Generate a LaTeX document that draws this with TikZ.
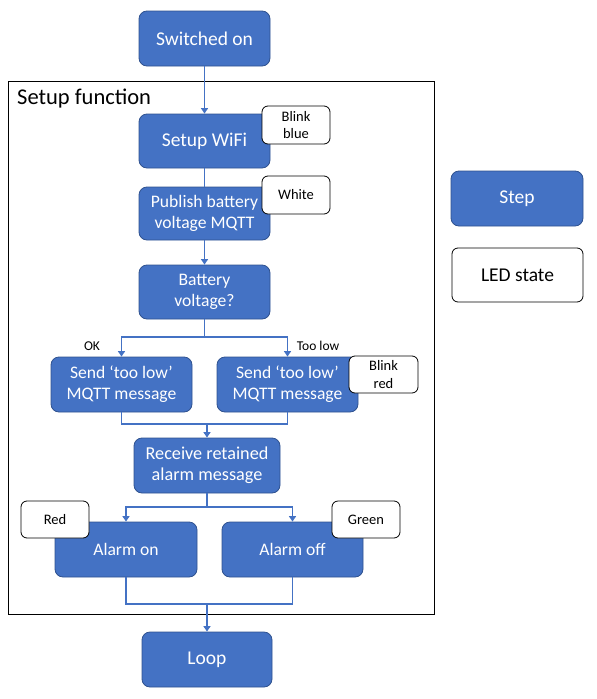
\documentclass[tikz,border=0pt]{standalone}
\usepackage{fontspec}
\setmainfont{Carlito}
\usetikzlibrary{arrows.meta}
\definecolor{stepblue}{HTML}{4472C4}
\definecolor{stepedge}{HTML}{2F528F}
\begin{document}
\begin{tikzpicture}[x=1pt,y=-1pt,
  stepbox/.style={draw=stepedge,line width=0.8pt,fill=stepblue,rounded corners=8pt,
    text=white,inner sep=0pt,align=center,font=\fontsize{19.5}{21.5}\selectfont},
  smallstep/.style={stepbox,font=\fontsize{17.6}{21}\selectfont},
  ledbox/.style={draw=black,line width=0.8pt,fill=white,rounded corners=6pt,
    text=black,inner sep=0pt,align=center,font=\fontsize{14.5}{17.7}\selectfont},
  conn/.style={draw=stepblue,line width=1.6pt},
  arr/.style={conn,-{Triangle[width=7pt,length=5.5pt]}},
  lbl/.style={font=\fontsize{13.5}{16}\selectfont,inner sep=0pt}
]
\useasboundingbox (0,0) rectangle (597,699);
% frame
\draw[line width=0.8pt] (8,81) rectangle (434,614);
\node[anchor=west,inner sep=0pt,font=\fontsize{22.5}{26}\selectfont] (title) at (17,99) {Setup function};

% steps
\node[stepbox,minimum width=131pt,minimum height=55pt] (on) at (204.5,38.5) {Switched on};
\node[stepbox,minimum width=131pt,minimum height=54pt] (wifi) at (204.5,141) {Setup WiFi};
\node[smallstep,minimum width=131pt,minimum height=53pt] (pub) at (204.5,213.5) {Publish battery\\voltage MQTT};
\node[smallstep,minimum width=131pt,minimum height=54pt] (bat) at (204.5,292) {Battery\\voltage?};
\node[smallstep,minimum width=141pt,minimum height=55pt] (sendl) at (121.5,384.5) {Send ‘too low’\\MQTT message};
\node[smallstep,minimum width=141pt,minimum height=55pt] (sendr) at (287.5,384.5) {Send ‘too low’\\MQTT message};
\node[smallstep,minimum width=146pt,minimum height=55pt,font=\fontsize{18.2}{21}\selectfont] (recv) at (207,465.5) {Receive retained\\alarm message};
\node[smallstep,minimum width=142pt,minimum height=55pt] (aon) at (126,549.5) {Alarm on};
\node[smallstep,minimum width=141pt,minimum height=55pt] (aoff) at (292.5,549.5) {Alarm off};
\node[stepbox,minimum width=130pt,minimum height=55pt] (loop) at (207,659.5) {Loop};

% legend
\node[stepbox,minimum width=132pt,minimum height=55pt] (legstep) at (517,198.5) {Step};
\node[ledbox,minimum width=131pt,minimum height=54pt,font=\fontsize{19.5}{21.5}\selectfont] (legled) at (517.5,275) {LED state};

% connectors
\draw[arr] (on.south) -- (wifi.north);
\draw[conn] (wifi.south) -- (pub.north);
\draw[arr] (pub.south) -- (bat.north);
\coordinate (b1) at (204.5,337);
\draw[conn] (bat.south) -- (b1);
\draw[arr] (b1) -| (sendl.north);
\draw[arr] (b1) -| (sendr.north);
\coordinate (m1) at (207,424);
\draw[conn] (sendl.south) |- (m1);
\draw[conn] (sendr.south) |- (m1);
\draw[arr] (m1) -- (recv.north);
\coordinate (b2) at (207,507);
\draw[conn] (recv.south) -- (b2);
\draw[arr] (b2) -| (aon.north);
\draw[arr] (b2) -| (aoff.north);
\coordinate (m2) at (207,604);
\draw[conn] (aon.south) |- (m2);
\draw[conn] (aoff.south) |- (m2);
\draw[arr] (m2) -- (loop.north);

% branch labels
\node[lbl] (ok) at (92,346) {OK};
\node[lbl] (toolow) at (318,346) {Too low};

% LED states
\node[ledbox,minimum width=68pt,minimum height=38pt] (ledblue) at (296,125) {Blink\\blue};
\node[ledbox,minimum width=68pt,minimum height=38pt] (ledwhite) at (296,195) {White};
\node[ledbox,minimum width=69pt,minimum height=37pt] (ledred) at (383.5,374.5) {Blink\\red};
\node[ledbox,minimum width=68pt,minimum height=37pt] (red) at (55,519.5) {Red};
\node[ledbox,minimum width=68pt,minimum height=37pt] (green) at (366,519.5) {Green};
\end{tikzpicture}
\end{document}
